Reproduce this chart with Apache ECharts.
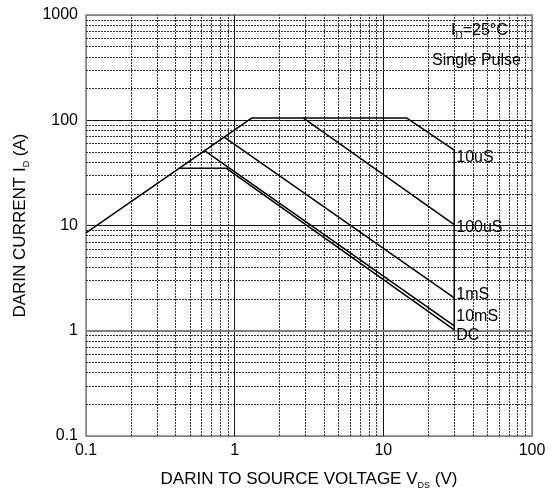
<!DOCTYPE html>
<html lang="en">
<head>
    <meta charset="UTF-8">
    <title>Safe Operating Area</title>
    <style>
        html, body { margin: 0; padding: 0; background: #fff; }
        #soa { width: 555px; height: 495px; }
    </style>
</head>
<body>
<div id="soa"></div>
<script src="https://cdn.jsdelivr.net/npm/echarts@6/dist/echarts.min.js"></script>
<script type="text/javascript">
    // curves, [Vds, Id]
    const envelope10us = [[0.1, 8.5], [1.3, 105], [14.4, 105], [30, 52]];
    const limit30v = [[30, 52], [30, 1.0]];
    const curve100us = [[2.9, 105], [30, 10.2]];
    const curve1ms = [[0.85, 69], [30, 2.05]];
    const curve10ms = [[0.62, 52], [30, 1.11]];
    const curveDC = [[0.42, 35], [0.875, 35], [30, 1.02]];

    const xTicks = [0.1, 1, 10, 100];
    const yTicks = [0.1, 1, 10, 100, 1000];

    const font = 'Liberation Sans, Arial, sans-serif';
    const chart = echarts.init(document.getElementById('soa'));

    // dotted minor grid: 2..9 inside every decade
    const minorX = [];
    for (let i = 0; i < xTicks.length - 1; i++) {
        for (let k = 2; k <= 9; k++) minorX.push({xAxis: +(xTicks[i] * k).toPrecision(3)});
    }
    const minorY = [];
    for (let i = 0; i < yTicks.length - 1; i++) {
        for (let k = 2; k <= 9; k++) minorY.push({yAxis: +(yTicks[i] * k).toPrecision(3)});
    }

    function curve(name, data, label, dy) {
        return {
            name: name,
            type: 'line',
            data: data,
            symbol: 'none',
            z: 5,
            lineStyle: {color: '#000', width: 1.5},
            endLabel: {
                show: !!label,
                formatter: label || '',
                color: '#000',
                fontSize: 16,
                fontFamily: font,
                distance: 2,
                offset: [0, dy || 0]
            }
        };
    }

    const titleRich = {
        a: {fontSize: 17, fontFamily: font, color: '#000', lineHeight: 22},
        s: {fontSize: 9, fontFamily: font, color: '#000', lineHeight: 9, verticalAlign: 'bottom'}
    };

    chart.setOption({
        animation: false,
        grid: {
            left: 86, right: 23, top: 15, bottom: 59,
            show: true, borderColor: '#7f7f7f', borderWidth: 1.5
        },
        xAxis: {
            type: 'log', logBase: 10, min: 0.1, max: 100,
            name: '{a|DARIN TO SOURCE VOLTAGE V}{s|DS}{a| (V)}',
            nameLocation: 'middle', nameGap: 32,
            nameTextStyle: {rich: titleRich},
            axisLine: {show: false},
            axisTick: {show: false},
            axisLabel: {fontSize: 16, fontFamily: font, color: '#000', margin: 7, formatter: v => String(v)},
            splitLine: {show: true, lineStyle: {color: ['#7f7f7f', '#111', '#111', '#7f7f7f'], width: 1}}
        },
        yAxis: {
            type: 'log', logBase: 10, min: 0.1, max: 1000,
            name: '{a|DARIN CURRENT I}{s|D}{a| (A)}',
            nameLocation: 'middle', nameGap: 53,
            nameTextStyle: {rich: titleRich},
            axisLine: {show: false},
            axisTick: {show: false},
            axisLabel: {fontSize: 16, fontFamily: font, color: '#000', margin: 8, formatter: v => String(v)},
            splitLine: {show: true, lineStyle: {color: ['#7f7f7f', '#7f7f7f', '#111', '#111', '#7f7f7f'], width: 1}}
        },
        graphic: [
            {
                type: 'text', left: 451, top: 23, z: 10,
                style: {
                    text: '{a|I}{s|D}{a|=25°C}',
                    rich: {
                        a: {fontSize: 16, fontFamily: font, fill: '#000', lineHeight: 20},
                        s: {fontSize: 10, fontFamily: font, fill: '#000', lineHeight: 10, verticalAlign: 'bottom'}
                    }
                }
            },
            {
                type: 'text', left: 432, top: 53, z: 10,
                style: {text: 'Single Pulse', font: '16px ' + font, fill: '#000'}
            }
        ],
        series: [
            {
                name: 'grid',
                type: 'line',
                data: [],
                silent: true,
                markLine: {
                    silent: true,
                    symbol: 'none',
                    label: {show: false},
                    lineStyle: {color: '#333', width: 1, type: [2, 1]},
                    data: minorX.concat(minorY)
                }
            },
            {
                name: 'one',
                type: 'line',
                data: [],
                silent: true,
                markLine: {
                    silent: true,
                    symbol: 'none',
                    label: {show: false},
                    lineStyle: {color: '#7f7f7f', width: 2, type: 'solid'},
                    data: [{yAxis: 1}]
                }
            },
            curve('10uS', envelope10us, '10uS', 7),
            curve('limit', limit30v),
            curve('100uS', curve100us, '100uS', 3),
            curve('1mS', curve1ms, '1mS', -3),
            curve('10mS', curve10ms, '10mS', -9),
            curve('DC', curveDC, 'DC', 6)
        ]
    });
</script>
</body>
</html>
